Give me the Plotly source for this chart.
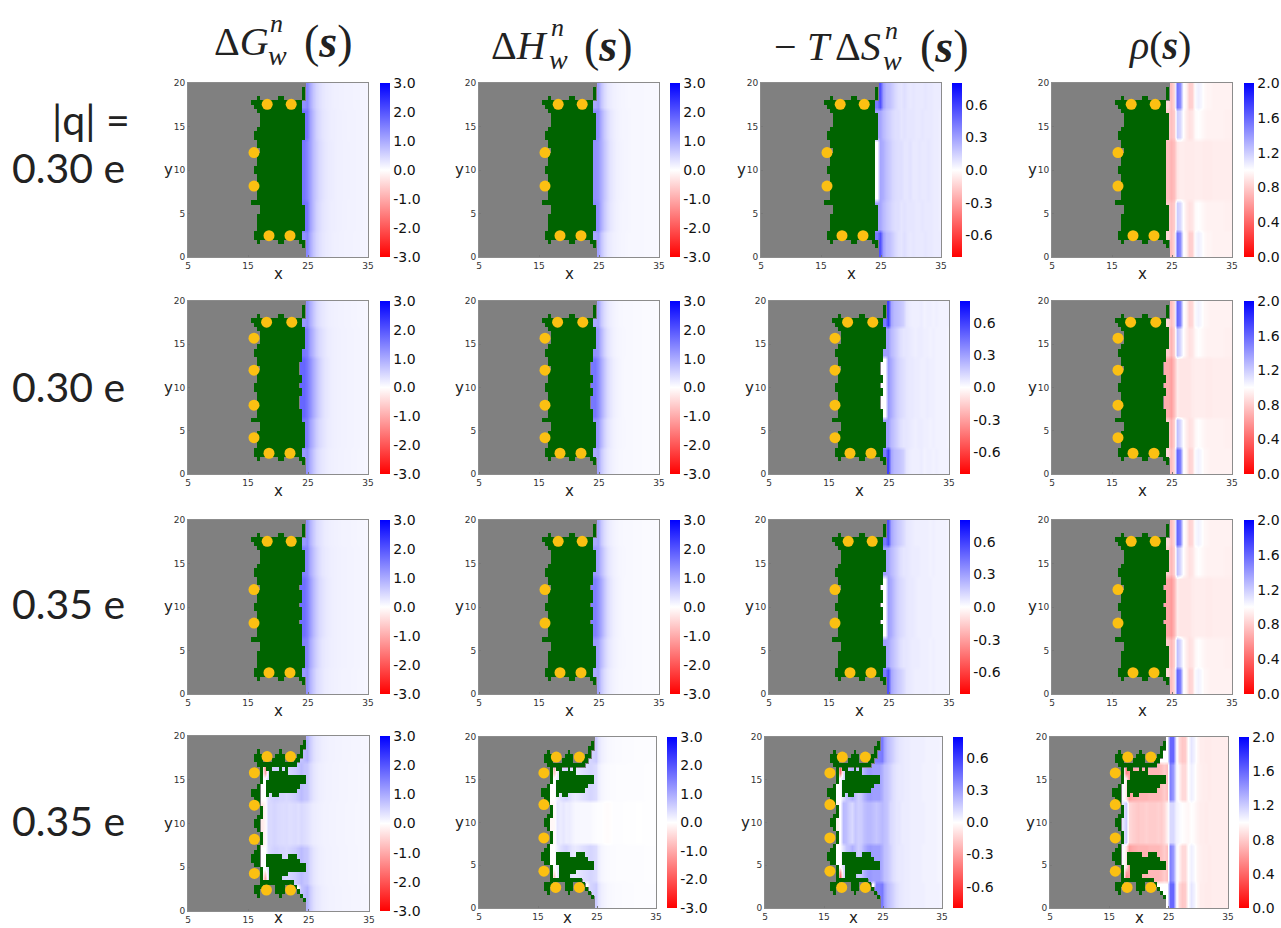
import plotly.graph_objects as go

W, H = 1281, 928

# ---------- grid ----------
GRID_X = [5.25 + 0.5 * i for i in range(60)]
GRID_Y = [0.25 + 0.5 * i for i in range(40)]

# ---------- solid (filled) pore mask, rows y=2..18 (index 4..35) ----------
SOLID_LEFT = [16, 16, 16.5, 16.5, 16.5, 16.5, 17, 17, 15.5, 16.5, 16.5, 16.5, 16.5, 16.5, 16.5, 16,
              16, 16.5, 16.5, 16.5, 17, 16.5, 16.5, 16, 16, 16.5, 17, 17, 17, 16.5, 16, 15.5]
RIGHT_Q30_A = [24, 24, 24.5, 24.5, 24.5, 24.5, 24.5, 24.5, 24, 24, 24, 24, 24, 24, 24, 24,
               24, 24, 24, 24, 24, 24, 24, 24.5, 24.5, 24.5, 24.5, 24.5, 24.5, 24, 24, 24]
RIGHT_Q30_B = [24, 24, 24.5, 24.5, 24.5, 24.5, 24.5, 24.5, 24, 24, 24, 23.5, 23.5, 23.5, 24, 24,
               23.5, 24, 24, 23.5, 23.5, 23.5, 24, 24, 24, 24.5, 24.5, 24.5, 24.5, 24.5, 24, 24]
RIGHT_Q35_A = [24, 24, 24.5, 24.5, 24.5, 24.5, 24.5, 24, 24, 24, 24, 24, 23.5, 24, 24, 24,
               23.5, 24, 24, 24, 23.5, 24, 24, 24, 24.5, 24.5, 24.5, 24.5, 24.5, 24, 24, 24]
SOLID_TIPS = {2: [(24, 24.5)], 3: [(16.5, 17), (20, 21), (23.5, 24.5)],
              36: [(16.5, 17), (20, 21), (24, 24.5)], 37: [(24, 24.5)], 38: [(24, 24.5)]}

# ---------- open pore mask, runs per row index ----------
OPEN_RUNS = {
    2: [(24, 24.5)], 3: [(16.5, 17), (20, 20.5), (23.5, 24)],
    4: [(16, 17), (19.5, 21), (23, 23.5)], 5: [(16, 17.5), (19.5, 21), (22.5, 23)],
    6: [(17, 22.5)], 7: [(17, 17.5), (18.5, 20.5)], 8: [(17, 17.5), (18.5, 21.5)],
    9: [(17, 17.5), (18.5, 24.5)], 10: [(16, 17), (18, 24.5)], 11: [(15.5, 17), (18, 23.5)],
    12: [(15.5, 17), (18, 20.5), (21.5, 23)], 13: [(16, 17)], 14: [(16.5, 17)],
    15: [(17, 17.5)], 16: [(17, 17.5)], 17: [(17, 17.5)], 18: [(16.5, 17)], 19: [(16, 17)],
    20: [(16, 17)], 21: [(16.5, 17.5)], 22: [(17, 17.5)], 23: [(17, 17.5)], 24: [(16.5, 17)],
    25: [(16, 17)], 26: [(15.5, 17), (18, 18.5), (19, 20)], 27: [(15.5, 17), (18, 23)],
    28: [(16.5, 17), (18, 23.5)], 29: [(17, 17.5), (18, 24.5)], 30: [(17, 17.5), (18.5, 24.5)],
    31: [(17, 17.5), (18.5, 21.5)], 32: [(17, 17.5), (18, 19), (20, 20.5), (21, 21.5)],
    33: [(16.5, 23)], 34: [(16, 17.5), (19, 21), (22.5, 23.5)],
    35: [(16, 17.5), (19.5, 21), (23, 24)], 36: [(16.5, 17), (20, 20.5), (23.5, 24)],
    37: [(23.5, 24.5)], 38: [(24, 24.5)],
}
# where water begins in each row index of the open pore
OPEN_WATER_START = [24.5, 24.5, 24.5, 24, 23.5, 23, 22.5] + [17] * 26 + [23, 23.5, 24, 24, 24.5, 24.5, 24.5]
SOLID_WATER_START = [24.5] * 4 + [23.5] * 32 + [24.5] * 4

# band of each row index: 0 edge, 1 mouth, 2 centre
BAND_SOLID = [0] * 6 + [1] * 7 + [2] * 14 + [1] * 7 + [0] * 6
BAND_OPEN = [0] * 6 + [1] * 9 + [2] * 10 + [1] * 9 + [0] * 6

# ---------- charged-site positions ----------
SITES_SIX_X = [18.2, 22.2, 16.0, 16.0, 18.5, 22.0]
SITES_SIX_Y = [17.55, 17.55, 12.0, 8.15, 2.45, 2.45]
SITES_EIGHT_X = [18.1, 22.3, 16.0, 16.0, 16.0, 16.0, 18.5, 22.0]
SITES_EIGHT_Y = [17.55, 17.55, 15.7, 12.0, 7.95, 4.2, 2.4, 2.4]
SITES_OPEN_X = [18.1, 22.0, 16.0, 16.0, 16.0, 16.0, 18.0, 22.0]
SITES_OPEN_Y = [17.65, 17.65, 15.8, 12.1, 8.2, 4.3, 2.4, 2.4]

# ---------- column profiles for x = 23.5, 24, ... 34.5 ----------
G1 = [[1.3, 1.3, 1.4, 1.0, .7, .5, .38, .3, .25, .22, .2, .18, .18, .16, .16, .15, .15, .15, .14, .14, .13, .13, .12],
      [1.7, 1.7, 1.6, 1.1, .8, .55, .42, .32, .27, .23, .2, .2, .18, .18, .16, .16, .15, .15, .15, .14, .14, .13, .12],
      [1.6, 1.6, 1.4, 1.1, .8, .6, .45, .35, .28, .24, .22, .2, .18, .18, .17, .16, .16, .15, .15, .14, .14, .13, .12]]
G2 = [[1.2, 1.2, 1.3, .95, .7, .48, .36, .28, .24, .2, .18, .17, .16, .15, .15, .14, .14, .13, .13, .12, .12, .11, .1],
      [1.6, 1.6, 1.5, 1.1, .85, .6, .45, .35, .28, .22, .2, .18, .17, .16, .15, .15, .14, .14, .13, .13, .12, .12, .1],
      [1.8, 1.8, 1.6, 1.3, 1.0, .75, .55, .4, .3, .25, .2, .18, .17, .16, .15, .15, .14, .14, .13, .13, .12, .12, .1]]
G3 = [[1.2, 1.2, 1.3, .9, .65, .45, .35, .28, .22, .2, .18, .17, .16, .15, .14, .14, .14, .13, .13, .12, .12, .11, .1],
      [1.5, 1.5, 1.4, 1.0, .75, .55, .4, .3, .25, .22, .19, .18, .17, .16, .15, .15, .14, .14, .13, .13, .12, .12, .1],
      [1.7, 1.7, 1.5, 1.15, .85, .62, .45, .35, .28, .23, .2, .18, .17, .16, .15, .15, .14, .14, .13, .13, .12, .12, .1]]
G4 = [[.7, .8, .9, .6, .4, .3, .25, .2, .18, .16, .15, .15, .14, .14, .13, .13, .13, .12, .12, .12, .11, .11, .1],
      [.8, .7, .65, .45, .32, .25, .2, .18, .16, .15, .15, .14, .14, .13, .13, .13, .12, .12, .12, .11, .11, .1, .1],
      [.45, .4, .35, .28, .22, .2, .18, .16, .15, .15, .14, .14, .13, .13, .13, .12, .12, .12, .11, .11, .11, .1, .1]]
G4_IN = [[0] * 13,
         [0, 0, .4, .5, .55, .55, .5, .5, .45, .5, .55, .6, .7],
         [-.25, -.1, .45, .45, .5, .45, .42, .4, .42, .38, .4, .42, .38]]

H1 = [[1.0, 1.0, 1.1, .7, .45, .3, .22, .18, .15, .13, .12, .11, .1, .1, .1, .09, .09, .09, .08, .08, .08, .08, .07],
      [1.4, 1.4, 1.3, .95, .65, .45, .3, .22, .17, .14, .12, .12, .11, .1, .1, .09, .09, .09, .08, .08, .08, .08, .07],
      [1.3, 1.3, 1.2, .95, .7, .5, .32, .24, .18, .15, .13, .12, .11, .1, .1, .09, .09, .09, .08, .08, .08, .08, .07]]
H2 = [[1.0, 1.0, 1.05, .65, .42, .28, .2, .15, .12, .1, .09, .08, .08, .08, .07, .07, .07, .06, .06, .06, .06, .05, .05],
      [1.3, 1.3, 1.2, .85, .55, .35, .24, .17, .13, .11, .1, .09, .08, .08, .07, .07, .07, .06, .06, .06, .06, .05, .05],
      [1.6, 1.6, 1.35, 1.0, .7, .45, .3, .2, .15, .12, .1, .08, .08, .08, .07, .07, .07, .06, .06, .06, .06, .05, .05]]
H3 = [[1.0, 1.0, 1.05, .65, .42, .28, .2, .15, .12, .1, .09, .08, .08, .08, .07, .07, .07, .06, .06, .06, .06, .05, .05],
      [1.2, 1.2, 1.1, .8, .55, .36, .25, .18, .14, .11, .1, .09, .08, .08, .07, .07, .07, .06, .06, .06, .06, .05, .05],
      [1.5, 1.5, 1.3, 1.0, .7, .45, .3, .2, .15, .12, .1, .08, .08, .08, .07, .07, .07, .06, .06, .06, .06, .05, .05]]
H4 = [[.5, .55, .6, .35, .2, .14, .1, .08, .07, .06, .06, .05, .05, .05, .05, .04, .04, .04, .04, .04, .03, .03, .03],
      [.5, .45, .4, .22, .12, .08, .06, .05, .05, .04, .04, .04, .04, .03, .03, .03, .03, .03, .03, .02, .02, .02, .02],
      [.08, .05, .03, .02, .02, -.02, -.04, -.02, .02, .02, .02, .02, .01, .01, .01, .01, 0, 0, .01, .01, .01, .01, .01]]
H4_IN = [[0] * 13,
         [0, 0, .2, .35, .45, .5, .4, .3, .25, .3, .35, .4, .45],
         [-.1, -.08, .3, .22, .28, .2, .22, .15, .1, .1, .08, .08, .08]]

S1 = [[.42, .42, .55, .3, .22, .2, .16, .12, .09, .08, .1, .08, .07, .08, .07, .07, .07, .08, .07, .07, .06, .06, .06],
      [.3, .3, .28, .22, .18, .15, .12, .1, .1, .08, .09, .08, .08, .08, .07, .07, .08, .07, .07, .07, .06, .06, .05],
      [0, 0, .28, .25, .2, .17, .13, .11, .1, .1, .08, .08, .09, .07, .07, .08, .07, .07, .08, .07, .06, .06, .05]]
S2 = [[.42, .42, .6, .28, .22, .2, .18, .15, .08, .06, .05, .05, .05, .06, .04, .05, .05, .04, .05, .04, .04, .04, .04],
      [.3, .3, .3, .22, .18, .14, .1, .08, .08, .07, .06, .05, .06, .06, .05, .05, .04, .05, .04, .04, .04, .04, .03],
      [0, 0, .32, .26, .2, .15, .12, .1, .08, .07, .07, .06, .06, .05, .05, .06, .05, .05, .04, .04, .04, .04, .03]]
S3 = [[.42, .42, .55, .28, .22, .18, .15, .12, .08, .07, .06, .05, .05, .05, .05, .05, .04, .05, .04, .04, .04, .04, .03],
      [.3, .3, .28, .22, .18, .14, .1, .08, .08, .07, .06, .06, .06, .05, .05, .05, .04, .05, .04, .04, .04, .04, .03],
      [0, 0, .3, .26, .2, .15, .12, .1, .08, .07, .07, .06, .05, .05, .05, .05, .05, .04, .04, .04, .04, .04, .03]]
S4 = [[.4, .4, .42, .3, .22, .18, .14, .1, .08, .07, .06, .06, .05, .05, .05, .05, .05, .04, .04, .04, .04, .04, .03],
      [.3, .3, .25, .2, .18, .14, .1, .08, .07, .07, .06, .06, .05, .05, .05, .05, .04, .04, .04, .04, .04, .03, .03],
      [.18, .2, .22, .2, .18, .12, .1, .08, .08, .06, .06, .06, .05, .05, .05, .05, .05, .04, .04, .04, .04, .03, .03]]
S4_IN = [[0] * 13,
         [0, 0, .1, .18, .2, .25, .2, .15, .18, .25, .3, .32, .3],
         [-.05, 0, .22, .2, .15, .12, .18, .15, .16, .2, .22, .22, .2]]

R1 = [[.85, .85, .75, .85, 1.55, 1.45, 1.02, .95, .8, .82, 1.02, 1.06, 1.03, .98, .96, .96, .95, .95, .95, .95, .95, .95, .95],
      [.8, .8, .75, .8, 1.2, 1.15, 1.0, .92, .88, .9, .98, 1.0, .98, .96, .95, .95, .95, .95, .95, .95, .94, .94, .94],
      [.75, .75, .7, .75, .9, .93, .93, .92, .92, .92, .93, .93, .93, .92, .92, .92, .93, .93, .93, .93, .93, .93, .93]]
R2 = [[.85, .85, .75, .85, 1.6, 1.5, 1.02, .95, .82, .85, 1.02, 1.05, 1.02, .97, .96, .95, .95, .95, .95, .95, .95, .95, .95],
      [.8, .8, .7, .82, 1.25, 1.15, 1.0, .93, .88, .9, .97, 1.0, .98, .96, .95, .95, .95, .95, .95, .95, .94, .94, .94],
      [.68, .68, .62, .75, .92, .9, .9, .9, .9, .92, .93, .93, .93, .93, .92, .92, .93, .93, .93, .93, .93, .93, .93]]
R3 = [[.85, .85, .75, .85, 1.6, 1.5, 1.02, .95, .82, .85, 1.02, 1.05, 1.02, .97, .96, .95, .95, .95, .95, .95, .95, .95, .95],
      [.8, .8, .72, .82, 1.25, 1.15, 1.0, .93, .88, .9, .97, 1.0, .98, .96, .95, .95, .95, .95, .95, .95, .94, .94, .94],
      [.65, .65, .6, .72, .92, .9, .9, .9, .9, .92, .93, .93, .93, .93, .92, .92, .93, .93, .93, .93, .93, .93, .93]]
R4 = [[1.0, 1.0, 1.0, 1.6, 1.6, 1.05, .85, .78, .8, 1.0, 1.1, 1.05, .97, .93, .93, .92, .92, .93, .93, .93, .93, .93, .93],
      [.75, .8, .75, 1.5, 1.4, 1.05, .95, .85, .85, 1.0, 1.06, 1.02, .96, .94, .93, .93, .92, .93, .93, .93, .93, .93, .93],
      [.8, .85, .95, 1.15, 1.15, 1.05, 1.02, 1.0, .98, .97, 1.0, .98, .95, .93, .93, .92, .93, .93, .93, .93, .93, .93, .93]]
R4_IN = [[1.0] * 13,
         [1.02, .9, .62, .66, .68, .7, .7, .7, .7, .72, .72, .72, .72],
         [1.1, 1.2, .85, .82, .8, .78, .8, .8, .82, .8, .8, .8, .82]]

# pink spots beside the wall of the open pore: row index -> value per quantity, at x = 17.5
OPEN_WALL_SPOTS = {31: {"G": -1.0, "H": -.6, "S": -.4, "R": .55},
                   32: {"G": -1.2, "H": -.8, "S": -.5, "R": .5},
                   7: {"G": -1.0, "H": -.6, "S": -.45, "R": .55},
                   8: {"G": -.6, "H": -.3, "S": -.3, "R": .65}}

Z_RANGE = {"G": (-3, 3), "H": (-3, 3), "S": (-0.8, 0.8), "R": (0, 2)}
TICKS_VAL = {"G": [3, 2, 1, 0, -1, -2, -3], "H": [3, 2, 1, 0, -1, -2, -3],
             "S": [.6, .3, 0, -.3, -.6], "R": [2, 1.6, 1.2, .8, .4, 0]}
TICKS_TXT = {"G": ["3.0", "2.0", "1.0", "0.0", "-1.0", "-2.0", "-3.0"],
             "H": ["3.0", "2.0", "1.0", "0.0", "-1.0", "-2.0", "-3.0"],
             "S": ["0.6", "0.3", "0.0", "-0.3", "-0.6"],
             "R": ["2.0", "1.6", "1.2", "0.8", "0.4", "0.0"]}
X_TICKS = [5, 15, 25, 35]
Y_TICKS = [0, 5, 10, 15, 20]

ROW_LABELS = ["0.30 e", "0.30 e", "0.35 e", "0.35 e"]
ROW_LABEL_Y = [168, 386, 603, 820]

# left, right, top, bottom, colourbar left (pixels are layout only)
RECTS = [
    [(188, 368, 83, 257, 380), (479, 659, 83, 257, 670), (761, 941, 83, 257, 952), (1052, 1232, 83, 257, 1244)],
    [(188, 368, 301, 474, 380), (479, 659, 301, 474, 670), (769, 949, 301, 474, 960), (1052, 1232, 301, 474, 1244)],
    [(188, 368, 520, 694, 380), (479, 659, 520, 694, 670), (769, 949, 520, 694, 960), (1052, 1232, 520, 694, 1244)],
    [(188, 369, 736, 911, 380), (479, 656, 737, 908, 667), (765, 942, 737, 908, 953), (1050, 1228, 737, 908, 1239)],
]
KINDS = ["G", "H", "S", "R"]
PROFILES = [[G1, H1, S1, R1], [G2, H2, S2, R2], [G3, H3, S3, R3], [G4, H4, S4, R4]]
INNER = {"G": G4_IN, "H": H4_IN, "S": S4_IN, "R": R4_IN}
RIGHTS = [RIGHT_Q30_A, RIGHT_Q30_B, RIGHT_Q35_A]
SITES = [(SITES_SIX_X, SITES_SIX_Y), (SITES_EIGHT_X, SITES_EIGHT_Y),
         (SITES_SIX_X, SITES_SIX_Y), (SITES_OPEN_X, SITES_OPEN_Y)]

BWR = [[0, "#ff0000"], [0.5, "#ffffff"], [1, "#0000ff"]]
GREEN = [[0, "#006400"], [1, "#006400"]]
TEXT = "#222222"


def solid_runs(idx, right):
    if idx in SOLID_TIPS:
        return SOLID_TIPS[idx]
    if 4 <= idx <= 35:
        return [(SOLID_LEFT[idx - 4], right[idx - 4])]
    return []


def mask_z(row):
    z = []
    for j in range(40):
        runs = OPEN_RUNS.get(j, []) if row == 3 else solid_runs(j, RIGHTS[row])
        z.append([1 if any(a <= x < b for a, b in runs) else None for x in GRID_X])
    return z


def water_z(row, kind, prof):
    starts = OPEN_WATER_START if row == 3 else SOLID_WATER_START
    bands = BAND_OPEN if row == 3 else BAND_SOLID
    z = []
    for j in range(40):
        b = bands[j]
        line = []
        for x in GRID_X:
            cell = int(round((x - 0.25 - 17) * 2))
            if x < starts[j]:
                line.append(None)
            elif cell >= 13:
                line.append(prof[b][cell - 13])
            elif cell == 1 and j in OPEN_WALL_SPOTS:
                line.append(OPEN_WALL_SPOTS[j][kind])
            else:
                line.append(INNER[kind][b][cell])
        z.append(line)
    return z


fig = go.Figure()
anns = []


def note(text, px, py, size, family="DejaVu Sans", xanchor="center", color=TEXT):
    anns.append(dict(text=text, x=px / W, y=1 - py / H, xref="paper", yref="paper", showarrow=False,
                     xanchor=xanchor, yanchor="middle", font=dict(size=size, family=family, color=color)))


n = 0
for r, row_rects in enumerate(RECTS):
    mask = mask_z(r)
    sx, sy = SITES[r]
    for c, (L, R, T, B, CB) in enumerate(row_rects):
        n += 1
        kind = KINDS[c]
        xa, ya = f"x{n}", f"y{n}"
        zmin, zmax = Z_RANGE[kind]
        fig.add_trace(go.Heatmap(
            x=GRID_X, y=GRID_Y, z=water_z(r, kind, PROFILES[r][c]), xaxis=xa, yaxis=ya,
            zmin=zmin, zmax=zmax, colorscale=BWR, hoverongaps=False, zsmooth="best",
            colorbar=dict(x=CB / W, xanchor="left", y=1 - B / H, yanchor="bottom", len=(B - T) / H,
                          lenmode="fraction", thickness=10, thicknessmode="pixels", xpad=0, ypad=0,
                          outlinewidth=0, ticks="", tickvals=TICKS_VAL[kind], ticktext=TICKS_TXT[kind],
                          tickfont=dict(size=14, family="DejaVu Sans", color="#111111"))))
        fig.add_trace(go.Heatmap(x=GRID_X, y=GRID_Y, z=mask, xaxis=xa, yaxis=ya, colorscale=GREEN,
                                 showscale=False, zmin=0, zmax=1))
        fig.add_trace(go.Scatter(x=sx, y=sy, xaxis=xa, yaxis=ya, mode="markers", showlegend=False,
                                 marker=dict(color="#FBC012", size=11, line=dict(width=0))))
        axis = dict(showgrid=False, zeroline=False, showline=True, mirror=True, linecolor="#8c8c8c",
                    linewidth=1, ticks="inside", ticklen=2, tickcolor="#777777",
                    tickfont=dict(size=9, family="DejaVu Sans", color="#333333"))
        fig.layout[f"xaxis{n}"] = dict(axis, domain=[L / W, R / W], range=[5, 35], tickvals=X_TICKS, anchor=ya)
        fig.layout[f"yaxis{n}"] = dict(axis, domain=[1 - B / H, 1 - T / H], range=[0, 20], tickvals=Y_TICKS, anchor=xa)
        note("x", (L + R) / 2, 918 if r == 3 else B + 17, 15)
        note("y", L - 20, (T + B) / 2, 15)

SERIF = "Liberation Serif"
SANS = "Lato"
# column headings
note("Δ<i>G</i>", 212, 41, 40, SERIF, "left")
note("<i>n</i>", 268, 24, 26, SERIF, "left")
note("<i>w</i>", 266, 55, 28, SERIF, "left")
note("(<b><i>s</i></b>)", 302, 41, 46, SERIF, "left")
note("Δ<i>H</i>", 489, 45, 40, SERIF, "left")
note("<i>n</i>", 549, 28, 26, SERIF, "left")
note("<i>w</i>", 547, 59, 28, SERIF, "left")
note("(<b><i>s</i></b>)", 582, 45, 46, SERIF, "left")
note("−", 772, 47, 40, SERIF, "left")
note("<i>T</i>", 805, 47, 40, SERIF, "left")
note("Δ<i>S</i>", 833, 47, 40, SERIF, "left")
note("<i>n</i>", 883, 30, 26, SERIF, "left")
note("<i>w</i>", 881, 61, 28, SERIF, "left")
note("(<b><i>s</i></b>)", 918, 47, 46, SERIF, "left")
note("<i>ρ</i>(<b><i>s</i></b>)", 1126, 45, 40, SERIF, "left")
# row labels
note("|q| =", 91, 120, 41, SANS)
for label, py in zip(ROW_LABELS, ROW_LABEL_Y):
    note(label, 68, py, 41, SANS)

fig.update_layout(width=W, height=H, margin=dict(l=0, r=0, t=0, b=0, autoexpand=False), paper_bgcolor="white",
                  plot_bgcolor="#808080", showlegend=False, annotations=anns)

fig.write_html("out.html", config={"displayModeBar": False},
               post_script="document.body.style.margin='0';document.body.style.overflow='hidden';")
